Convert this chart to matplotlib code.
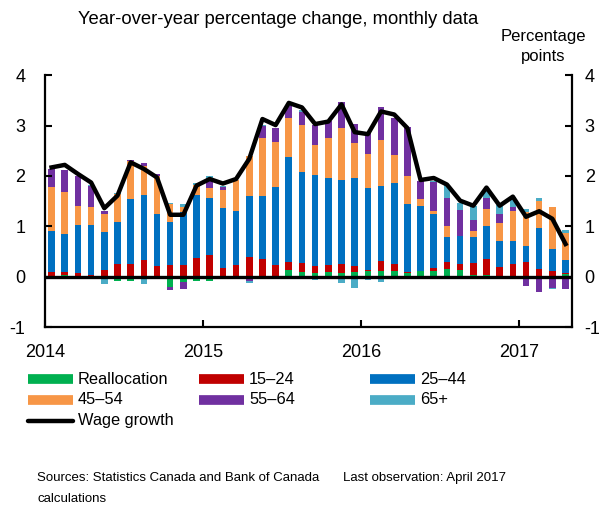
import numpy as np
import matplotlib
matplotlib.use("Agg")
import matplotlib.pyplot as plt
from matplotlib.lines import Line2D

plt.rcParams["font.family"] = ["Liberation Sans", "DejaVu Sans"]
plt.rcParams["axes.unicode_minus"] = False

# Monthly data, Jan 2014 - Apr 2017
realloc = [0.0, 0.03, 0.0, 0.0, -0.05, -0.09, -0.08, -0.05, -0.05, -0.21,
           -0.11, -0.08, -0.08, -0.02, 0.0, 0.0, 0.02, 0.0, 0.13, 0.09,
           0.07, 0.1, 0.08, 0.09, 0.12, 0.12, 0.12, 0.07, 0.12, 0.12,
           0.15, 0.14, 0.03, 0.04, 0.01, 0.01, 0.01, 0.01, 0.02, 0.05]
age_15_24 = [0.09, 0.06, 0.07, 0.03, 0.13, 0.26, 0.26, 0.34, 0.22, 0.23,
             0.23, 0.38, 0.43, 0.17, 0.24, 0.40, 0.33, 0.23, 0.17, 0.18,
             0.14, 0.13, 0.17, 0.12, 0.02, 0.2, 0.13, 0.03, -0.03, 0.05,
             0.15, 0.11, 0.25, 0.32, 0.19, 0.25, 0.28, 0.14, 0.1, 0.02]
age_25_44 = [0.81, 0.76, 0.95, 1.0, 0.75, 0.83, 1.29, 1.28, 1.03, 0.86,
             1.05, 1.24, 1.13, 1.19, 1.06, 1.2, 1.26, 1.56, 2.08, 1.81,
             1.8, 1.73, 1.67, 1.74, 1.62, 1.49, 1.62, 1.34, 1.29, 1.08,
             0.48, 0.55, 0.5, 0.64, 0.51, 0.45, 0.33, 0.81, 0.43, 0.27]
age_45_54 = [0.89, 0.84, 0.38, 0.36, 0.36, 0.56, 0.74, 0.57, 0.74, 0.35,
             0.1, 0.2, 0.21, 0.37, 0.62, 0.8, 1.15, 0.89, 0.78, 0.93,
             0.6, 0.79, 1.03, 0.71, 0.67, 0.91, 0.55, 0.56, 0.13, 0.05,
             0.23, 0.0, 0.12, 0.34, 0.36, 0.6, 0.66, 0.54, 0.83, 0.53]
age_55_64 = [0.35, 0.42, 0.59, 0.41, 0.07, 0.0, 0.03, 0.07, 0.04, -0.05,
             -0.13, 0.0, 0.17, 0.06, -0.04, -0.08, 0.23, 0.28, 0.22, 0.26,
             0.4, 0.35, 0.52, 0.38, 0.43, 0.64, 0.74, 0.97, 0.36, 0.58,
             0.56, 0.52, 0.23, 0.22, 0.17, 0.08, -0.19, -0.31, -0.23, -0.25]
age_65_plus = [0.0, 0.0, 0.0, 0.02, -0.09, 0.02, 0.0, -0.09, 0.0, 0.03,
               0.07, 0.04, 0.05, 0.02, 0.0, -0.05, 0.03, 0.0, 0.03, 0.03,
               -0.07, -0.03, -0.12, -0.22, -0.07, -0.1, 0.0, -0.03, 0.0, 0.03,
               0.25, 0.15, 0.28, 0.15, 0.18, 0.19, 0.07, 0.07, -0.02, 0.05]
wage_growth = [2.17, 2.22, 2.04, 1.87, 1.36, 1.61, 2.27, 2.14, 1.97, 1.23,
               1.23, 1.81, 1.94, 1.85, 1.94, 2.34, 3.13, 3.01, 3.45, 3.36,
               3.03, 3.08, 3.42, 2.87, 2.83, 3.28, 3.22, 2.95, 1.92, 1.96,
               1.83, 1.51, 1.41, 1.77, 1.41, 1.59, 1.19, 1.3, 1.15, 0.65]

labels = ["Reallocation", "15\u201324", "25\u201344", "45\u201354", "55\u201364", "65+"]
colors = ["#00B050", "#C00000", "#0070C0", "#F79646", "#7030A0", "#4BACC6"]
years = ["2014", "2015", "2016", "2017"]

series = [realloc, age_15_24, age_25_44, age_45_54, age_55_64, age_65_plus]
n = len(wage_growth)
x = np.arange(n) + 0.5

fig = plt.figure(figsize=(6.08, 5.08), dpi=100)
ax = fig.add_axes([0.074, 0.356, 0.867, 0.496])

# stack positives up and negatives down from zero
pos_base = np.zeros(n)
neg_base = np.zeros(n)
for vals, c in zip(series, colors):
    v = np.array(vals)
    p = np.where(v > 0, v, 0)
    m = np.where(v < 0, v, 0)
    ax.bar(x, p, 0.5, bottom=pos_base, color=c, linewidth=0)
    ax.bar(x, m, 0.5, bottom=neg_base, color=c, linewidth=0)
    pos_base += p
    neg_base += m

ax.axhline(0, color="black", lw=2.4, zorder=3)
ax.plot(x, wage_growth, color="black", lw=3.2, zorder=4)

ax.set_xlim(0, n)
ax.set_ylim(-1, 4)
ax.set_yticks([-1, 0, 1, 2, 3, 4])
ax.set_xticks([0, 12, 24, 36])
ax.set_xticklabels(years)
ax.tick_params(axis="y", direction="in", length=5, width=1.5, labelsize=13, pad=14)
ax.tick_params(axis="x", direction="in", length=5, width=1.5, labelsize=13, pad=12)
for s in ["top", "right"]:
    ax.spines[s].set_visible(False)
for s in ["left", "bottom"]:
    ax.spines[s].set_linewidth(1.6)

ax2 = ax.twinx()
ax2.set_ylim(-1, 4)
ax2.set_yticks([-1, 0, 1, 2, 3, 4])
ax2.tick_params(axis="y", direction="in", length=5, width=1.5, labelsize=13, pad=9)
for s in ["top", "left", "bottom"]:
    ax2.spines[s].set_visible(False)
ax2.spines["right"].set_linewidth(1.6)

W, H = 608, 508
fig.text(278 / W, 1 - 19 / H, "Year-over-year percentage change, monthly data",
         ha="center", va="center", fontsize=13.3)
fig.text(543 / W, 1 - 36 / H, "Percentage", ha="center", va="center", fontsize=12)
fig.text(543 / W, 1 - 56 / H, "points", ha="center", va="center", fontsize=12)

# legend, drawn by hand (uneven column spacing)
col_x = [28, 199, 370]
row_y = [379, 400, 421]
for i, (lab, c) in enumerate(zip(labels, colors)):
    cx = col_x[i % 3]
    cy = row_y[i // 3]
    fig.add_artist(Line2D([cx / W, (cx + 45) / W], [1 - cy / H, 1 - cy / H],
                          color=c, lw=7, solid_capstyle="butt"))
    fig.text((cx + 50) / W, 1 - cy / H, lab, ha="left", va="center", fontsize=11.8)
fig.add_artist(Line2D([col_x[0] / W, (col_x[0] + 45) / W],
                      [1 - row_y[2] / H, 1 - row_y[2] / H],
                      color="black", lw=3.2, solid_capstyle="round"))
fig.text((col_x[0] + 50) / W, 1 - row_y[2] / H, "Wage growth", ha="left",
         va="center", fontsize=11.8)

fig.text(37 / W, 1 - 478 / H, "Sources: Statistics Canada and Bank of Canada",
         ha="left", va="center", fontsize=9.5)
fig.text(37 / W, 1 - 499 / H, "calculations", ha="left", va="center", fontsize=9.5)
fig.text(343 / W, 1 - 478 / H, "Last observation: April 2017", ha="left",
         va="center", fontsize=9.5)

fig.savefig("out.png", dpi=100)
